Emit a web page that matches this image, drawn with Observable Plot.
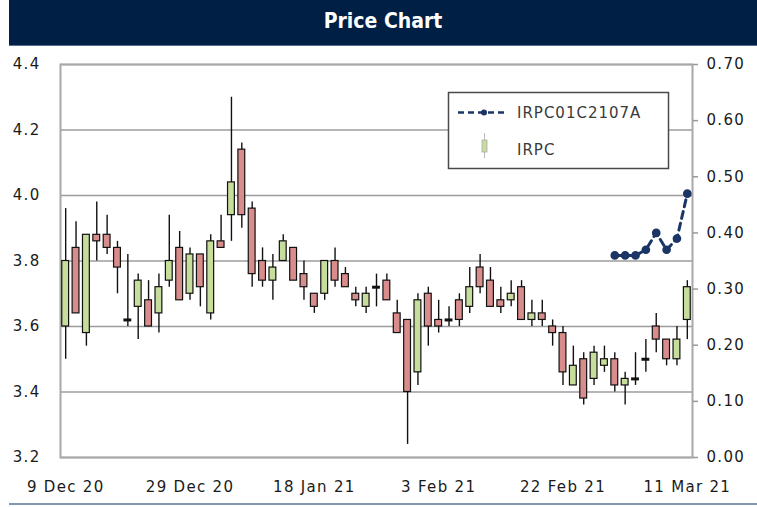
<!DOCTYPE html>
<html>
<head>
<meta charset="utf-8">
<script src="https://cdn.jsdelivr.net/npm/d3@7"></script>
<script src="https://cdn.jsdelivr.net/npm/@observablehq/plot@0.6"></script>
<style>
  html, body { margin: 0; padding: 0; background: #ffffff; }
  #wrap { position: relative; width: 757px; height: 507px; overflow: hidden; background: #fff; }
  #title { position: absolute; left: 9px; top: 0; width: 748px; height: 46px; background: #001f45;
           color: #fff; font-family: "DejaVu Sans Condensed", "DejaVu Sans", sans-serif; font-weight: bold;
           font-size: 21px; line-height: 42px; text-align: center; border-bottom: 1px solid #5a6f8f; box-sizing: border-box; }
  #chart { position: absolute; left: 0; top: 46px; }
  #bottomline { position: absolute; left: 9px; top: 503px; width: 748px; height: 2px; background: #8496b0; }
  #legend { position: absolute; left: 0; top: 0; pointer-events: none; }
</style>
</head>
<body>
<div id="wrap">
  <div id="title">Price Chart</div>
  <div id="chart"></div>
  <div id="bottomline"></div>
</div>
<script>
// ---- data ----
const dates = [
  "2020-12-09","2020-12-14","2020-12-15","2020-12-16","2020-12-17","2020-12-18","2020-12-21","2020-12-22","2020-12-23","2020-12-24","2020-12-25","2020-12-28",
  "2020-12-29","2020-12-30","2021-01-04","2021-01-05","2021-01-06","2021-01-07","2021-01-08","2021-01-11","2021-01-12","2021-01-13","2021-01-14","2021-01-15",
  "2021-01-18","2021-01-19","2021-01-20","2021-01-21","2021-01-22","2021-01-25","2021-01-26","2021-01-27","2021-01-28","2021-01-29","2021-02-01","2021-02-02",
  "2021-02-03","2021-02-04","2021-02-05","2021-02-08","2021-02-09","2021-02-10","2021-02-11","2021-02-15","2021-02-16","2021-02-17","2021-02-18","2021-02-19",
  "2021-02-22","2021-02-23","2021-02-24","2021-02-25","2021-03-01","2021-03-02","2021-03-03","2021-03-04","2021-03-05","2021-03-08","2021-03-09","2021-03-10","2021-03-11"
];
const open = [3.60,3.84,3.58,3.88,3.88,3.84,3.62,3.66,3.68,3.64,3.74,3.84,
  3.70,3.82,3.64,3.86,3.94,4.14,3.96,3.80,3.74,3.80,3.84,3.76,
  3.70,3.70,3.80,3.76,3.70,3.66,3.72,3.74,3.64,3.62,3.46,3.70,
  3.62,3.62,3.68,3.66,3.78,3.74,3.68,3.68,3.72,3.62,3.64,3.60,
  3.58,3.42,3.50,3.44,3.48,3.50,3.42,3.44,3.50,3.60,3.56,3.50,3.62];
const high = [3.96,3.92,3.88,3.98,3.94,3.86,3.82,3.76,3.74,3.76,3.94,3.89,
  3.84,3.82,3.88,3.94,4.30,4.16,3.98,3.84,3.82,3.88,3.84,3.80,
  3.70,3.80,3.84,3.78,3.72,3.72,3.76,3.76,3.68,3.62,3.70,3.72,
  3.68,3.66,3.70,3.78,3.82,3.78,3.72,3.74,3.74,3.68,3.68,3.62,
  3.60,3.54,3.52,3.54,3.54,3.52,3.46,3.52,3.56,3.64,3.56,3.60,3.74];
const low = [3.50,3.64,3.54,3.80,3.82,3.70,3.60,3.56,3.60,3.58,3.72,3.68,
  3.68,3.66,3.62,3.84,3.86,3.90,3.72,3.72,3.68,3.80,3.74,3.68,
  3.64,3.68,3.72,3.72,3.66,3.64,3.66,3.68,3.58,3.24,3.42,3.54,
  3.58,3.60,3.60,3.64,3.70,3.66,3.64,3.66,3.62,3.60,3.60,3.54,
  3.42,3.42,3.36,3.42,3.46,3.40,3.36,3.42,3.46,3.52,3.48,3.48,3.56];
const close = [3.80,3.64,3.88,3.86,3.84,3.78,3.62,3.74,3.60,3.72,3.80,3.68,
  3.82,3.72,3.86,3.84,4.04,3.94,3.76,3.74,3.78,3.86,3.74,3.72,
  3.66,3.80,3.74,3.72,3.68,3.70,3.72,3.68,3.58,3.40,3.68,3.60,
  3.60,3.62,3.62,3.72,3.72,3.66,3.66,3.70,3.62,3.64,3.62,3.58,
  3.46,3.48,3.38,3.52,3.50,3.42,3.44,3.44,3.50,3.56,3.50,3.56,3.72];

const warrantDates = ["2021-03-02","2021-03-03","2021-03-04","2021-03-05","2021-03-08","2021-03-09","2021-03-10","2021-03-11"];
const warrantValues = [0.36,0.36,0.36,0.37,0.40,0.37,0.39,0.47];

const leftTicks = [3.2,3.4,3.6,3.8,4.0,4.2,4.4];
const rightTicks = [0.00,0.10,0.20,0.30,0.40,0.50,0.60,0.70];
const tickDates = ["2020-12-09","2020-12-29","2021-01-18","2021-02-03","2021-02-22","2021-03-11"];
const tickLabels = ["9 Dec 20","29 Dec 20","18 Jan 21","3 Feb 21","22 Feb 21","11 Mar 21"];

const seriesNames = ["IRPC01C2107A","IRPC"];

// ---- build ----
const GREEN = "#c6dd9b", RED = "#d98c8c", INK = "#111", NAVY = "#1b3566";
const candles = dates.map((d, i) => ({i, date: d, open: open[i], high: high[i], low: low[i], close: close[i]}));
const up = candles.filter(d => d.close > d.open);
const down = candles.filter(d => d.close < d.open);
const doji = candles.filter(d => d.close === d.open);
const warrant = warrantDates.map((d, k) => ({i: dates.indexOf(d), v: warrantValues[k]}));
const toPrimary = d3.scaleLinear().domain([rightTicks[0], rightTicks[rightTicks.length - 1]]).range([leftTicks[0], leftTicks[leftTicks.length - 1]]);
const tickIdx = tickDates.map(d => dates.indexOf(d));
const half = 0.33;

const chart = Plot.plot({
  width: 757,
  height: 461,
  marginTop: 18,
  marginBottom: 50,
  marginLeft: 60,
  marginRight: 65,
  style: {fontFamily: "DejaVu Sans, sans-serif", fontSize: "15px", letterSpacing: "1.3px", color: "#1a1a1a", background: "transparent", overflow: "visible"},
  x: {type: "linear", domain: [-0.5, dates.length - 0.5], label: null},
  y: {domain: [leftTicks[0], leftTicks[leftTicks.length - 1]], label: null},
  marks: [
    Plot.gridY(leftTicks, {stroke: "#9c9c9c", strokeOpacity: 1, strokeWidth: 1.5}),
    Plot.frame({stroke: "#a8a8a8", strokeWidth: 2}),
    Plot.axisY(leftTicks, {anchor: "left", tickSize: 0, tickPadding: 20, tickFormat: d => d.toFixed(1), label: null}),
    Plot.axisY(rightTicks.map(toPrimary), {anchor: "right", tickSize: 5, tickPadding: 9, stroke: "#999", strokeWidth: 1.5,
      tickFormat: v => toPrimary.invert(v).toFixed(2), label: null}),
    Plot.axisX(tickIdx, {anchor: "bottom", tickSize: 0, tickPadding: 24, tickFormat: i => tickLabels[tickIdx.indexOf(i)], label: null}),
    Plot.ruleX(candles, {x: "i", y1: "low", y2: "high", stroke: INK, strokeWidth: 1.4}),
    Plot.rect(up, {x1: d => d.i - half, x2: d => d.i + half, y1: "open", y2: "close", fill: GREEN, stroke: INK, strokeWidth: 1.2}),
    Plot.rect(down, {x1: d => d.i - half, x2: d => d.i + half, y1: "open", y2: "close", fill: RED, stroke: INK, strokeWidth: 1.2}),
    Plot.ruleY(doji, {x1: d => d.i - half - 0.05, x2: d => d.i + half + 0.05, y: "close", stroke: INK, strokeWidth: 3}),
    Plot.line(warrant, {x: "i", y: d => toPrimary(d.v), stroke: NAVY, strokeWidth: 3, strokeDasharray: "7,5"}),
    Plot.dot(warrant, {x: "i", y: d => toPrimary(d.v), r: 3.6, fill: NAVY, stroke: NAVY})
  ]
});
document.getElementById("chart").appendChild(chart);

// ---- legend ----
const wrap = d3.select("#wrap");
const lg = wrap.append("svg").attr("id", "legend").attr("width", 757).attr("height", 507);
lg.append("rect").attr("x", 448.5).attr("y", 92.5).attr("width", 220).attr("height", 76)
  .attr("fill", "#fff").attr("stroke", "#4a4a4a").attr("stroke-width", 1.5);
lg.append("line").attr("x1", 458).attr("x2", 508).attr("y1", 112.5).attr("y2", 112.5)
  .attr("stroke", NAVY).attr("stroke-width", 2.5).attr("stroke-dasharray", "6,4");
lg.append("circle").attr("cx", 484).attr("cy", 112.5).attr("r", 3).attr("fill", NAVY);
lg.append("line").attr("x1", 484.5).attr("x2", 484.5).attr("y1", 133).attr("y2", 158).attr("stroke", "#bbb").attr("stroke-width", 1);
lg.append("rect").attr("x", 482).attr("y", 140).attr("width", 5).attr("height", 12).attr("fill", GREEN).attr("stroke", "#aaa").attr("stroke-width", 0.8);
lg.selectAll("text.lt").data(seriesNames).join("text")
  .attr("x", 517).attr("y", (d, k) => k === 0 ? 112.5 : 150)
  .attr("dy", "0.36em").attr("fill", "#3a3a3a")
  .attr("font-family", "DejaVu Sans, sans-serif").attr("font-size", 15).attr("letter-spacing", "1px")
  .text(d => d);
</script>
</body>
</html>
